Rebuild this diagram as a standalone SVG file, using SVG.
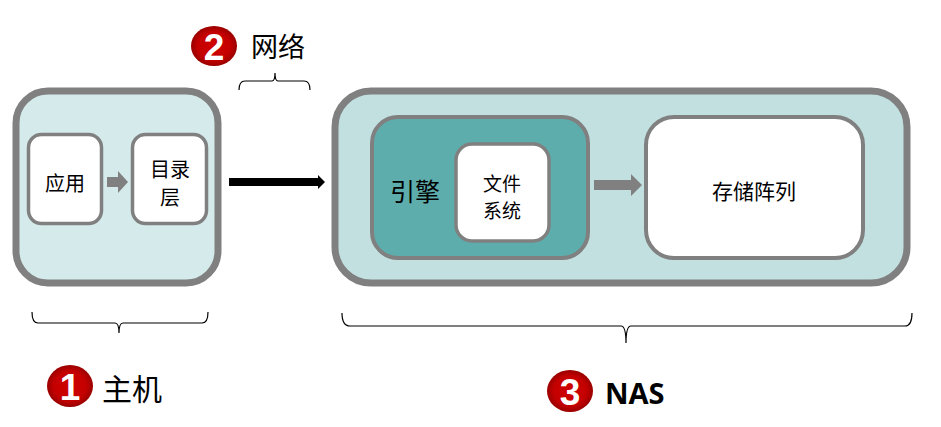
<svg xmlns="http://www.w3.org/2000/svg" width="941" height="427" viewBox="0 0 941 427">
<defs>
<radialGradient id="rg" cx="50%" cy="50%" r="50%">
<stop offset="0" stop-color="#d00000"/>
<stop offset="0.7" stop-color="#c40000"/>
<stop offset="1" stop-color="#9a0000"/>
</radialGradient>
<style>
.outer{stroke:#808080;stroke-width:7}
.inner{fill:#ffffff;stroke:#808080;stroke-width:3.5}
.t{font-family:"Noto Sans CJK SC","Liberation Sans",sans-serif;fill:#000;text-anchor:middle;dominant-baseline:central}
.brace{fill:none;stroke:#000;stroke-width:1.2}
.num{font-family:"Liberation Sans",sans-serif;font-weight:bold;font-size:37px;fill:#fff;text-anchor:middle;dominant-baseline:central}
.gray{fill:#808080}
</style>
</defs>
<rect width="941" height="427" fill="#ffffff"/>

<g id="host">
<rect class="outer" x="16" y="91" width="202" height="192" rx="32" fill="#d5eaea"/>
</g>
<g id="app">
<rect class="inner" x="28.5" y="134.5" width="73" height="89" rx="13"/>
<text class="t" x="65" y="182" font-size="20">应用</text>
</g>
<g id="dir">
<rect class="inner" x="132.5" y="134.5" width="74" height="89" rx="13"/>
<text class="t" x="170" y="168" font-size="20">目录</text>
<text class="t" x="170" y="196" font-size="20">层</text>
</g>

<g id="nas">
<rect class="outer" x="335" y="91" width="572" height="192" rx="36" fill="#c2e0e0"/>
</g>
<g id="engine">
<rect x="372" y="117" width="216" height="141" rx="26" fill="#5eadad" stroke="#808080" stroke-width="4"/>
<text class="t" x="415" y="190" font-size="25">引擎</text>
</g>
<g id="fs">
<rect class="inner" x="456" y="144" width="93" height="97" rx="16"/>
<text class="t" x="502" y="182" font-size="19">文件</text>
<text class="t" x="502" y="209" font-size="19">系统</text>
</g>
<g id="storage">
<rect x="646" y="117" width="217" height="141" rx="28" fill="#ffffff" stroke="#808080" stroke-width="4"/>
<text class="t" x="754" y="190" font-size="21">存储阵列</text>
</g>

<g id="connectors">
<polygon class="gray" points="107,177 118,177 118,171 128,182 118,193 118,187 107,187"/>
<polygon points="229,178 318,178 318,175 325,182 318,189 318,186 229,186" fill="#000"/>
<polygon class="gray" points="594,180 631,180 631,174 642,185 631,196 631,190 594,190"/>
</g>

<g id="braces">
<path class="brace" d="M239,90 Q239,81 245,81 L272,81 Q275,81 275,73 Q275,81 278,81 L304,81 Q310,81 310,90"/>
<path class="brace" d="M32,312 Q32,323 38,323 L115,323 Q119,323 119,333 Q119,323 123,323 L202,323 Q208,323 208,312"/>
<path class="brace" d="M342,313 Q342,326 350,326 L621,326 Q626,326 626,343 Q626,326 631,326 L905,326 Q912,326 912,313"/>
</g>

<g id="label-host">
<ellipse cx="70" cy="386" rx="23" ry="21" fill="url(#rg)"/>
<text class="num" x="70" y="387">1</text>
<text class="t" x="132" y="387" font-size="30">主机</text>
</g>
<g id="label-net">
<ellipse cx="214" cy="46" rx="23" ry="20" fill="url(#rg)"/>
<text class="num" x="214" y="47">2</text>
<text class="t" x="278" y="45" font-size="27">网络</text>
</g>
<g id="label-nas">
<ellipse cx="570" cy="391" rx="23" ry="21" fill="url(#rg)"/>
<text class="num" x="570" y="392">3</text>
<text x="605" y="392" font-family="'Open Sans','Liberation Sans',sans-serif" font-weight="bold" font-size="29" fill="#000" dominant-baseline="central">NAS</text>
</g>
</svg>
